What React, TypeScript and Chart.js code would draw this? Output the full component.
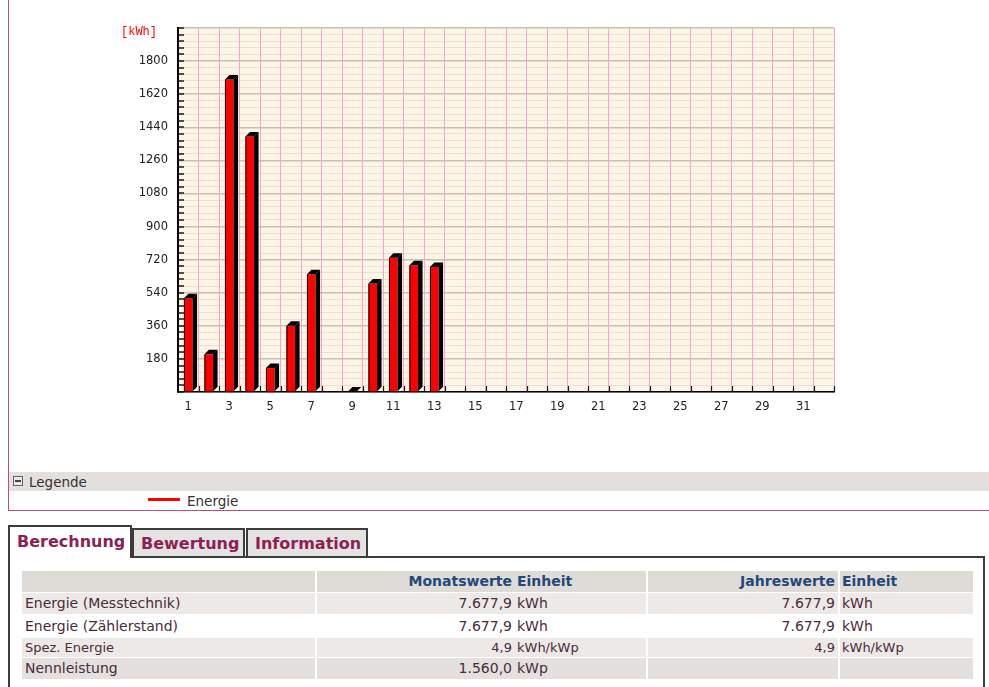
import React, { useEffect, useRef } from "react";
import { Chart, registerables } from "chart.js";
Chart.register(...registerables);

// ---- chart data ----
const days = ["1","2","3","4","5","6","7","8","9","10","11","12","13","14","15","16","17","18","19","20","21","22","23","24","25","26","27","28","29","30","31","32"];
const energy: (number | null)[] = [510, 205, 1700, 1390, 130, 360, 640, null, 3, 590, 730, 690, 680,
  null, null, null, null, null, null, null, null, null, null, null, null, null, null, null, null, null, null, null];
const yMax = 1980;
const yMinorStep = 36;
const yLabelStep = 180;
const unitLabel = "[kWh]";
const seriesName = "Energie";

// ---- table data ----
const tabs = ["Berechnung", "Bewertung", "Information"];
const headers = ["", "Monatswerte", "Einheit", "Jahreswerte", "Einheit"];
const rowLabels = ["Energie (Messtechnik)", "Energie (Zählerstand)", "Spez. Energie", "Nennleistung"];
const monthValues = ["7.677,9", "7.677,9", "4,9", "1.560,0"];
const monthUnits = ["kWh", "kWh", "kWh/kWp", "kWp"];
const yearValues = ["7.677,9", "7.677,9", "4,9", ""];
const yearUnits = ["kWh", "kWh", "kWh/kWp", ""];

const FONT = "'DejaVu Sans', Verdana, sans-serif";

const bgPlugin = {
  id: "bgPlot",
  beforeDraw(chart: any) {
    const { ctx, chartArea } = chart;
    if (!chartArea) return;
    ctx.save();
    ctx.fillStyle = "#fdf5e6";
    ctx.fillRect(chartArea.left, chartArea.top, chartArea.right - chartArea.left, chartArea.bottom - chartArea.top);
    ctx.restore();
  },
};

const decoPlugin = {
  id: "deco3d",
  afterDatasetsDraw(chart: any) {
    const { ctx, chartArea } = chart;
    const meta = chart.getDatasetMeta(0);
    const d = 4.5;
    ctx.save();
    ctx.fillStyle = "#000";
    meta.data.forEach((bar: any, i: number) => {
      if (energy[i] == null) return;
      const { x, y, base, width } = bar.getProps(["x", "y", "base", "width"], true);
      const l = x - width / 2;
      const r = x + width / 2;
      ctx.beginPath();
      ctx.moveTo(r, y);
      ctx.lineTo(r + d, y - d);
      ctx.lineTo(r + d, base - d);
      ctx.lineTo(r, base);
      ctx.closePath();
      ctx.fill();
      ctx.beginPath();
      ctx.moveTo(l, y);
      ctx.lineTo(l + d, y - d);
      ctx.lineTo(r + d, y - d);
      ctx.lineTo(r, y);
      ctx.closePath();
      ctx.fill();
      ctx.fillRect(l, y, 1, base - y);
    });
    // inward tick marks
    ctx.strokeStyle = "#1a1a1a";
    ctx.lineWidth = 1.5;
    const ys = chart.scales.y;
    ys.ticks.forEach((t: any) => {
      const py = Math.round(ys.getPixelForValue(t.value));
      ctx.beginPath();
      ctx.moveTo(chartArea.left, py);
      ctx.lineTo(chartArea.left + 6, py);
      ctx.stroke();
    });
    const xs = chart.scales.x;
    const n = days.length;
    const slot = (chartArea.right - chartArea.left) / n;
    ctx.lineWidth = 1.2;
    for (let i = 1; i <= n; i++) {
      const px = Math.round(xs.getPixelForValue(i - 1) + slot / 2) + 0.5;
      ctx.beginPath();
      ctx.moveTo(px, chartArea.bottom);
      ctx.lineTo(px, chartArea.bottom - 6);
      ctx.stroke();
    }
    // unit label
    ctx.fillStyle = "#ff0000";
    ctx.font = "12px 'Liberation Mono', 'DejaVu Sans Mono', monospace";
    ctx.textAlign = "right";
    ctx.textBaseline = "middle";
    ctx.fillText(unitLabel, chartArea.left - 21, chartArea.top + 4);
    ctx.restore();
  },
};

function EnergyChart() {
  const ref = useRef<HTMLCanvasElement>(null);
  useEffect(() => {
    if (!ref.current) return;
    const chart = new Chart(ref.current, {
      type: "bar",
      data: {
        labels: days,
        datasets: [
          {
            label: seriesName,
            data: energy as any,
            backgroundColor: "#ff0000",
            borderWidth: 0,
            barPercentage: 0.42,
            categoryPercentage: 1,
          },
        ],
      },
      options: {
        animation: false,
        responsive: false,
        devicePixelRatio: 1,
        layout: { padding: { top: 28, right: 75, left: 0, bottom: 0 } },
        plugins: { legend: { display: false }, tooltip: { enabled: false } },
        scales: {
          x: {
            afterFit: (s: any) => { s.height = 38; },
            grid: { color: "#f4a6d0", lineWidth: 1, drawTicks: false, offset: true, z: -0.5 } as any,
            border: { display: true, color: "#000", width: 1.5 },
            ticks: {
              autoSkip: false,
              maxRotation: 0,
              padding: 8,
              color: "#222",
              font: { family: FONT, size: 11.5 },
              callback: (_v: any, idx: number) => (idx % 2 === 0 ? days[idx] : ""),
            },
          },
          y: {
            min: 0,
            max: yMax,
            afterFit: (s: any) => { s.width = 169; },
            grid: {
              drawTicks: false,
              color: (c: any) => (c.tick && c.tick.value % yLabelStep === 0 ? "#c6bfb5" : "#ebe1d3"),
              lineWidth: (c: any) => (c.tick && c.tick.value % yLabelStep === 0 ? 1.5 : 1),
            },
            border: { display: true, color: "#000", width: 2 },
            ticks: {
              stepSize: yMinorStep,
              maxTicksLimit: 200,
              autoSkip: false,
              padding: 10,
              color: "#222",
              font: { family: FONT, size: 11.5 },
              callback: (v: any) => (v % yLabelStep === 0 && v > 0 && v < yMax ? String(v) : ""),
            },
          },
        },
      },
      plugins: [bgPlugin, decoPlugin],
    });
    return () => chart.destroy();
  }, []);
  return <canvas ref={ref} width={900} height={430} style={{ position: "absolute", left: 9, top: 0 }} />;
}

const labelColor = "#4b2b3b";
const headColor = "#24477a";
const tabColor = "#8e1f55";

export default function App() {
  const colW = [294, 199, 132, 192, 134];
  const rowH = [22, 23, 20, 22];
  const rowBg = ["#ece9e6", "#ffffff", "#ece9e6", "#e3e0dd"];
  const cell = (extra: React.CSSProperties): React.CSSProperties => ({
    padding: "0 3px",
    whiteSpace: "nowrap",
    overflow: "hidden",
    ...extra,
  });
  return (
    <div style={{ position: "absolute", left: 0, top: 0, width: 989, height: 687, overflow: "hidden", fontFamily: FONT, background: "#fff" }}>
      {/* chart frame */}
      <div style={{ position: "absolute", left: 8, top: -2, width: 990, height: 512, borderLeft: "1px solid #c44a86", borderBottom: "1px solid #c44a86" }} />
      <EnergyChart />
      {/* legend */}
      <div style={{ position: "absolute", left: 9, top: 472, width: 980, height: 19, background: "#e3e0dd" }} />
      <div style={{ position: "absolute", left: 13, top: 476, width: 8, height: 8, border: "1px solid #666", background: "#e8e8e8" }}>
        <div style={{ position: "absolute", left: 1, top: 3, width: 6, height: 2, background: "#444" }} />
      </div>
      <div style={{ position: "absolute", left: 29, top: 473, height: 19, lineHeight: "19px", fontSize: 13.5, color: "#333" }}>Legende</div>
      <div style={{ position: "absolute", left: 148, top: 498, width: 32, height: 3, background: "#ff0000" }} />
      <div style={{ position: "absolute", left: 187, top: 492, height: 19, lineHeight: "19px", fontSize: 13.5, color: "#333" }}>{seriesName}</div>

      {/* content box */}
      <div style={{ position: "absolute", left: 8, top: 556, width: 977, height: 200, border: "2px solid #3c3c3c", boxSizing: "border-box" }} />
      {/* tabs */}
      <div style={{ position: "absolute", left: 8, top: 525, width: 124, height: 33, borderLeft: "2px solid #3c3c3c", borderTop: "2px solid #3c3c3c", borderRight: "2px solid #3c3c3c", background: "#fff", boxSizing: "border-box", color: tabColor, fontWeight: "bold", fontSize: 16, lineHeight: "30px", paddingLeft: 7 }}>{tabs[0]}</div>
      <div style={{ position: "absolute", left: 132, top: 528, width: 113, height: 30, border: "2px solid #3c3c3c", background: "#e5e3e1", boxSizing: "border-box", color: tabColor, fontWeight: "bold", fontSize: 16, lineHeight: "28px", paddingLeft: 7 }}>{tabs[1]}</div>
      <div style={{ position: "absolute", left: 246, top: 528, width: 122, height: 30, border: "2px solid #3c3c3c", background: "#e5e3e1", boxSizing: "border-box", color: tabColor, fontWeight: "bold", fontSize: 16, lineHeight: "28px", paddingLeft: 7 }}>{tabs[2]}</div>

      {/* table */}
      <table style={{ position: "absolute", left: 22, top: 571, width: 951, borderCollapse: "collapse", tableLayout: "fixed", fontFamily: FONT }}>
        <colgroup>
          {colW.map((w, i) => <col key={i} style={{ width: w }} />)}
        </colgroup>
        <tbody>
          <tr style={{ height: 21, background: "#dfdcd8" }}>
            <td style={cell({})}></td>
            <td style={cell({ textAlign: "right", borderLeft: "2px solid #fff", color: headColor, fontWeight: "bold", fontSize: 14 })}>{headers[1]}</td>
            <td style={cell({ color: headColor, fontWeight: "bold", fontSize: 14, paddingLeft: 2 })}>{headers[2]}</td>
            <td style={cell({ textAlign: "right", borderLeft: "2px solid #fff", color: headColor, fontWeight: "bold", fontSize: 14 })}>{headers[3]}</td>
            <td style={cell({ borderLeft: "2px solid #fff", color: headColor, fontWeight: "bold", fontSize: 14, paddingLeft: 2 })}>{headers[4]}</td>
          </tr>
          {rowLabels.map((lab, r) => {
            const fs = r === 2 ? 13 : 14;
            return (
              <tr key={r} style={{ height: rowH[r], background: rowBg[r], borderTop: "1px solid #fff" }}>
                <td style={cell({ color: labelColor, fontSize: fs })}>{lab}</td>
                <td style={cell({ textAlign: "right", borderLeft: "2px solid #fff", color: labelColor, fontSize: fs })}>{monthValues[r]}</td>
                <td style={cell({ color: labelColor, fontSize: fs, paddingLeft: 2 })}>{monthUnits[r]}</td>
                <td style={cell({ textAlign: "right", borderLeft: "2px solid #fff", color: labelColor, fontSize: fs })}>{yearValues[r]}</td>
                <td style={cell({ borderLeft: "2px solid #fff", color: labelColor, fontSize: fs, paddingLeft: 2 })}>{yearUnits[r]}</td>
              </tr>
            );
          })}
        </tbody>
      </table>
    </div>
  );
}
